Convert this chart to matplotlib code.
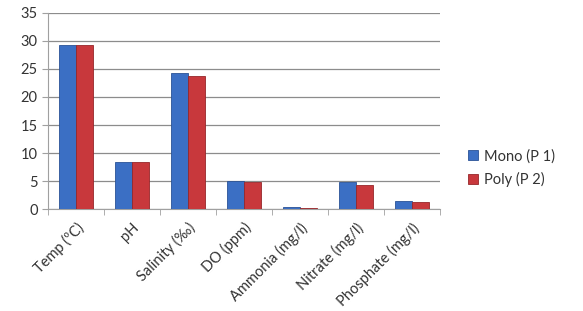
import numpy as np
import matplotlib.pyplot as plt

plt.rcParams['font.family'] = ['Lato', 'DejaVu Sans']

# Water quality parameters
params = ['Temp (ºC)', 'pH', 'Salinity (‰)', 'DO (ppm)',
          'Ammonia (mg/l)', 'Nitrate (mg/l)', 'Phosphate (mg/l)']
mono = [29.3, 8.4, 24.3, 5.0, 0.35, 4.9, 1.45]
poly = [29.3, 8.5, 23.7, 4.8, 0.15, 4.4, 1.35]

fig = plt.figure(figsize=(5.83, 3.11), dpi=100)
ax = fig.add_axes([48 / 583, 1 - 209.3 / 311, 392 / 583, 196.6 / 311])

x = np.arange(len(params))
w = 0.295
ax.bar(x - w / 2, mono, w, color='#3b6fc4', edgecolor='#2a5296', linewidth=0.6,
       label='Mono (P 1)', zorder=3)
ax.bar(x + w / 2, poly, w, color='#c8383c', edgecolor='#96262a', linewidth=0.6,
       label='Poly (P 2)', zorder=3)

ax.set_xlim(-0.5, len(params) - 0.5)
ax.set_ylim(0, 35)
ax.set_yticks(range(0, 36, 5))
ax.grid(True, axis='y', color='#8c8c8c', linewidth=0.9, zorder=0)

# category ticks sit between groups
ax.set_xticks(x)
ax.set_xticklabels(params, rotation=45, ha='right', rotation_mode='anchor',
                   fontsize=10.5, color='#333333')
ax.set_xticks(np.arange(-0.5, len(params)), minor=True)
ax.tick_params(axis='x', which='major', length=0, pad=8)
ax.tick_params(axis='x', which='minor', length=4, color='#a0a0a0')
ax.tick_params(axis='y', length=4, color='#a0a0a0', labelsize=10.5,
               labelcolor='#333333')

for side in ['top', 'right']:
    ax.spines[side].set_visible(False)
for side in ['left', 'bottom']:
    ax.spines[side].set_color('#a0a0a0')

fig.legend(loc='upper left', bbox_to_anchor=(455 / 583, 1 - 136 / 311),
           frameon=False, fontsize=10.5, handlelength=0.7, handleheight=0.7,
           handletextpad=0.4, labelspacing=0.6, labelcolor='#333333')

plt.savefig('out.png', dpi=100)
